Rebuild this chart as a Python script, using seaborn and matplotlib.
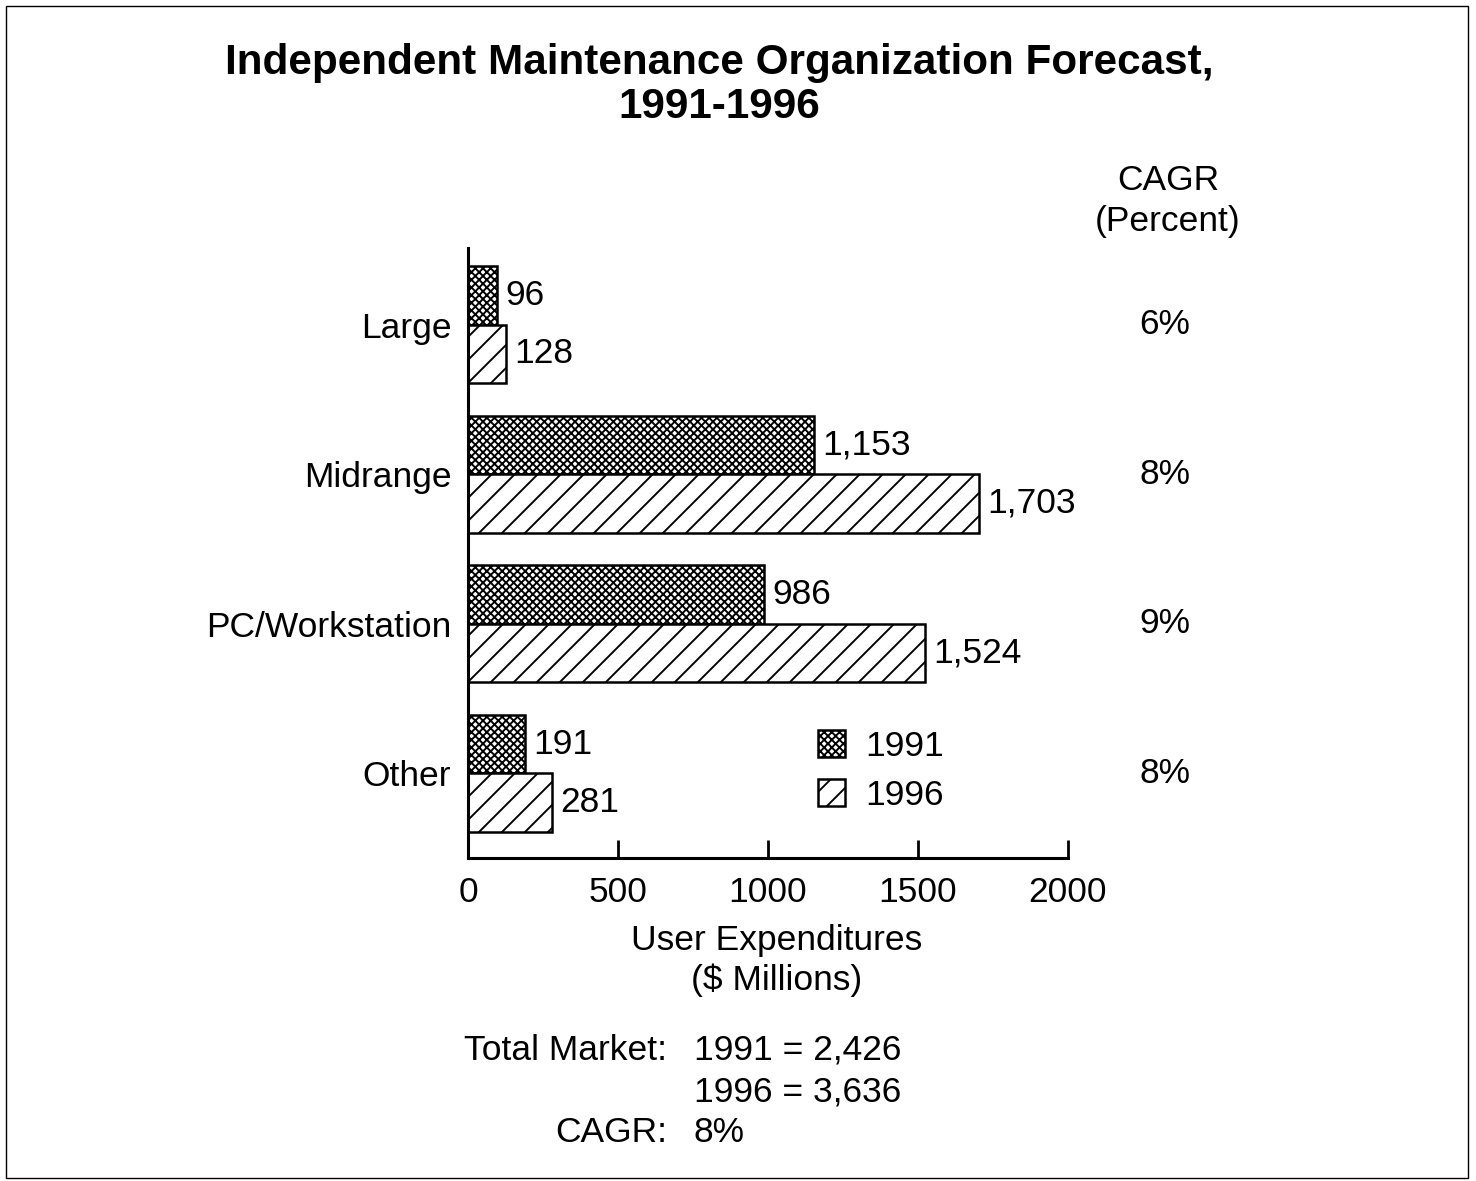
"""Independent maintenance organization forecast, 1991-1996 (hatched horizontal bars)."""
import matplotlib
matplotlib.use("Agg")
import matplotlib.pyplot as plt
from matplotlib.patches import Patch, Rectangle
from matplotlib.transforms import blended_transform_factory
import pandas as pd
import seaborn as sns

segments = ["Large", "Midrange", "PC/Workstation", "Other"]
years = ["1991", "1996"]
spend_1991 = [96, 1153, 986, 191]
spend_1996 = [128, 1703, 1524, 281]
cagr = ["6%", "8%", "9%", "8%"]
x_ticks = [0, 500, 1000, 1500, 2000]
total_lines = [("Total Market:", "1991 = 2,426"), ("", "1996 = 3,636"), ("CAGR:", "8%")]

df = pd.DataFrame({
    "segment": segments * 2,
    "year": [years[0]] * len(segments) + [years[1]] * len(segments),
    "value": spend_1991 + spend_1996,
})

W, H, DPI = 1477, 1181, 138
K = 100 / DPI  # sizes below are tuned as if at 100 dpi

sns.set_theme(style="white")
plt.rcParams["font.family"] = ["Liberation Sans", "DejaVu Sans"]
plt.rcParams["hatch.linewidth"] = 1.0
for key in ["text.color", "axes.labelcolor", "xtick.color", "ytick.color"]:
    plt.rcParams[key] = "black"
FS = 25.5 * K

fig = plt.figure(figsize=(W / DPI, H / DPI), dpi=DPI)
ax = fig.add_axes([468 / W, 1 - 858 / H, 600 / W, 610 / H])

sns.barplot(data=df, x="value", y="segment", hue="year", orient="h",
            palette=["white", "white"], edgecolor="black", linewidth=1.8 * K,
            width=0.78, legend=False, ax=ax)

hatches = {"1991": "xxxxxx", "1996": "//"}
for cont, yr, vals in zip(ax.containers, years, [spend_1991, spend_1996]):
    for bar in cont:
        bar.set_hatch(hatches[yr])
    ax.bar_label(cont, labels=[f"{v:,}" for v in vals], padding=6 * K, fontsize=FS)

ax.set_xlim(0, 2000)
ax.set_ylim(3.567, -0.513)
ax.set_xticks(x_ticks)
ax.set_xticklabels([str(t) for t in x_ticks], fontsize=FS)
ax.tick_params(axis="x", direction="in", length=13 * K, width=2.0 * K, pad=13 * K,
               bottom=True)
ax.tick_params(axis="y", length=0, pad=12 * K, labelsize=FS)
for s in ["top", "right"]:
    ax.spines[s].set_visible(False)
for s in ["left", "bottom"]:
    ax.spines[s].set_color("black")
    ax.spines[s].set_linewidth(2.2 * K)
ax.set_ylabel("")
ax.set_xlabel("User Expenditures\n($ Millions)", fontsize=FS, linespacing=1.25)
ax.xaxis.set_label_coords(0.515, -0.108)

# CAGR column on the right
tr = blended_transform_factory(fig.transFigure, ax.transData)
for i, c in enumerate(cagr):
    ax.text(1165 / W, i, c, transform=tr, ha="center", va="center", fontsize=FS)
fig.text(1168 / W, 1 - 181 / H, "CAGR", ha="center", va="center", fontsize=FS)
fig.text(1168 / W, 1 - 221 / H, "(Percent)", ha="center", va="center", fontsize=FS)

# legend
handles = [Patch(facecolor="white", edgecolor="black", hatch=hatches[y],
                 linewidth=1.8 * K) for y in years]
ax.legend(handles, years, loc="upper left", bbox_to_anchor=(0.583, 0.21),
          frameon=False, fontsize=FS, handlelength=0.78, handleheight=0.78,
          handletextpad=0.55, labelspacing=0.45, borderpad=0, borderaxespad=0)

fig.text(719 / W, 1 - 63 / H, "Independent Maintenance Organization Forecast,",
         ha="center", va="center", fontsize=30.4 * K, fontweight="bold")
fig.text(719 / W, 1 - 107 / H, "1991-1996",
         ha="center", va="center", fontsize=30.4 * K, fontweight="bold")

for k, (left, right) in enumerate(total_lines):
    yy = 1 - (1050 + 41.5 * k) / H
    fig.text(667 / W, yy, left, ha="right", va="center", fontsize=FS)
    fig.text(694 / W, yy, right, ha="left", va="center", fontsize=FS)

fig.patches.append(Rectangle((6 / W, 3 / H), 1462 / W, 1172 / H,
                             transform=fig.transFigure, fill=False,
                             edgecolor="black", linewidth=1.0 * K))

fig.savefig("out.png", dpi=DPI)
